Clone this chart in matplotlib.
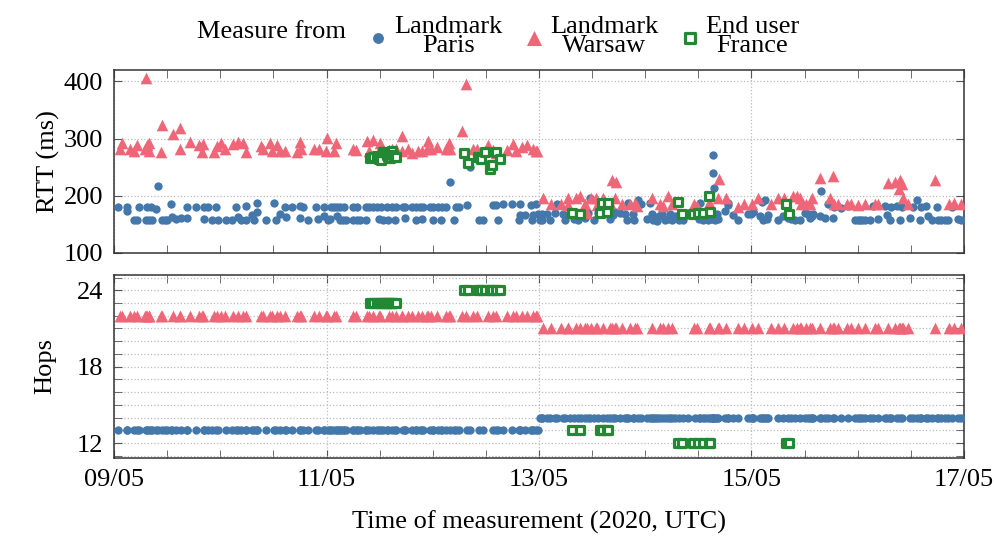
import numpy as np
import pandas as pd
import matplotlib
matplotlib.use("Agg")
import matplotlib.pyplot as plt
import matplotlib.dates as mdates

plt.rcParams['font.family'] = ['Liberation Serif', 'DejaVu Serif']
plt.rcParams['font.size'] = 19

# time = hours since 09/05/2020 00:00 UTC
start = pd.Timestamp("2020-05-09 00:00")

paris_h = [1.0, 2.9, 2.9, 5.7, 7.4, 8.4, 9.4, 12.9, 16.4, 18.5, 20.3, 21.2, 23.0, 27.5, 29.9,
           32.3, 32.3, 31.1, 36.2, 37.4, 38.6, 40.2, 42.1, 42.6, 45.6, 47.4, 10.0,
           5.1, 7.2, 8.5, 10.9, 12.0, 13.1, 13.9, 15.2, 16.4, 20.4, 22.2, 23.6, 25.3, 26.6,
           27.9, 28.7, 29.8, 31.6, 34.4, 36.6, 38.9, 42.1, 43.8, 46.0, 47.4, 48.4, 4.5, 8.0, 11.6,
           49.1, 50.3, 51.9, 54.0, 57.0, 58.5, 60.4, 61.6, 62.7, 63.8, 65.2, 67.2, 68.3, 69.8,
           71.3, 73.2, 75.1, 77.2, 78.0, 79.8, 85.5, 86.4, 87.8, 90.0, 91.7, 94.1, 95.4, 75.9,
           49.7, 51.0, 54.8, 57.6, 59.3, 65.7, 69.1, 72.1, 74.0,
           50.3, 51.0, 52.5, 54.0, 55.5, 57.0, 59.9, 61.9, 63.4, 65.7, 68.3, 69.5, 72.1, 73.8,
           76.8, 82.5, 83.4, 86.8, 91.7, 92.8, 94.7, 95.8, 91.5, 94.4, 96.6, 80.4,
           48.8, 51.8, 54.8, 60.8,
           96.6, 96.2, 97.7, 98.5, 99.6, 100.0, 101.5, 101.9, 103.0, 103.8, 104.9, 105.6, 106.4,
           107.0, 107.5, 108.5, 109.4, 110.5, 111.3, 112.0, 112.8, 113.2, 114.3, 115.4, 115.8,
           116.2, 117.3, 117.5, 118.3, 119.0, 120.3, 121.1, 121.6, 122.2, 123.0, 123.7, 124.5,
           125.6, 126.7, 127.6, 128.6, 129.7, 131.2, 132.1, 132.4, 133.5, 134.1, 135.0, 136.5,
           136.1, 138.0, 138.6, 138.8, 139.9, 141.0, 143.3, 144.4, 135.2, 135.4, 135.5,
           121.8, 122.6, 125.2, 126.0, 133.1, 134.6, 135.8,
           144.0, 144.4, 145.9, 146.3, 147.0, 146.6, 147.8, 147.4, 149.9, 151.2, 152.3, 153.0,
           153.8, 154.9, 156.1, 156.8, 157.6, 157.2, 157.9, 159.7, 159.4, 160.6, 161.2, 162.5,
           162.7, 164.3, 165.8, 167.3, 168.1, 169.6, 170.7, 171.5, 172.6, 174.1, 174.7, 175.3,
           175.6, 176.8, 177.5, 177.9, 179.8, 180.5, 181.5, 182.0, 182.4, 183.5, 183.8, 184.7,
           186.0, 186.9, 187.7, 188.4, 189.2, 190.7, 191.4, 168.5, 168.9, 186.2]
paris_rtt = [181, 181, 174, 181, 181, 181, 177, 185, 181, 181, 181, 181, 181, 181, 183,
             188, 172, 167, 187, 168, 181, 181, 183, 181, 181, 181, 217,
             158, 158, 158, 158, 158, 163, 160, 162, 162, 160, 158, 158, 158, 158,
             163, 158, 158, 158, 158, 158, 163, 161, 158, 160, 165, 158, 158, 158, 158,
             180, 180, 180, 180, 180, 180, 180, 180, 180, 180, 180, 181, 180, 180,
             180, 180, 180, 180, 180, 184, 184, 184, 185, 185, 185, 184, 185, 225,
             180, 180, 180, 180, 180, 180, 180, 180, 180,
             164, 158, 158, 158, 158, 158, 160, 158, 158, 162, 158, 160, 158, 158,
             157, 158, 158, 158, 167, 167, 166, 169, 158, 158, 158, 251,
             160, 158, 158, 158,
             168, 158, 168, 157, 170, 185, 168, 157, 168, 159, 157, 170, 161,
             170, 196, 157, 170, 168, 170, 159, 167, 172, 170, 168, 158,
             188, 168, 158, 192, 186, 160, 187, 168, 160, 165, 168, 158,
             168, 165, 158, 158, 168, 177, 160, 187, 167, 157, 159, 159,
             168, 174, 184, 188, 167, 158, 168, 172, 272, 240, 213,
             158, 156, 160, 157, 158, 160, 157,
             168, 171, 164, 190, 192, 157, 167, 159, 157, 165, 161, 159,
             158, 157, 170, 168, 164, 161, 168, 208, 164, 161, 185, 161,
             180, 178, 182, 157, 158, 157, 158, 182, 159, 182, 167, 158,
             181, 182, 157, 180, 161, 180, 192, 158, 180, 182, 164, 158,
             180, 157, 157, 157, 181, 159, 157, 157, 158, 157]

warsaw_h = [1.4, 1.7, 3.6, 4.5, 5.1, 7.0, 7.4, 7.8, 8.0, 10.5, 10.8, 13.3, 14.9, 14.8, 17.2,
            19.1, 20.0, 19.8, 22.6, 23.3, 24.1, 25.1, 26.8, 27.9, 29.1, 29.8, 33.1, 33.7, 35.2,
            35.6, 36.9, 37.6, 38.6, 41.4, 42.0, 42.2, 45.2, 46.4, 47.9, 48.2, 7.2,
            49.7, 50.1, 54.0, 54.6, 57.2, 57.6, 58.4, 60.1, 59.9, 62.2, 62.7, 63.8, 65.0, 65.0,
            66.5, 67.2, 68.7, 69.5, 71.0, 70.6, 71.5, 73.0, 75.1, 75.7, 75.9, 78.5, 79.6, 81.1,
            81.9, 84.5, 85.7, 86.4, 88.7, 90.2, 90.9, 92.1, 93.2, 94.7, 95.3, 95.5,
            96.8, 98.7, 101.0, 102.5, 102.6, 104.3, 105.3, 106.5, 106.8, 107.8, 108.8, 109.0,
            110.5, 112.0, 112.6, 113.5, 113.2, 114.8, 116.6, 117.7, 118.1, 121.6, 123.3, 124.1,
            125.2, 126.0, 131.1, 131.8, 134.3, 134.6, 136.4, 136.7, 138.2, 141.0, 142.2, 144.2,
            145.4, 148.4, 150.0, 151.4, 153.4, 154.2, 154.9, 155.3, 156.4, 157.2, 157.6, 159.4,
            161.7, 162.5, 162.7, 163.6, 165.5, 166.4, 168.0, 169.6, 171.9, 172.5, 174.9, 176.5,
            177.5, 177.3, 177.9, 178.3, 179.4, 185.4, 188.6, 189.8, 191.4]
warsaw_rtt = [281, 292, 281, 278, 289, 282, 289, 278, 292, 277, 323, 308, 319, 281, 294,
              289, 290, 276, 277, 287, 292, 282, 291, 294, 292, 277, 287, 281, 292,
              278, 288, 278, 279, 276, 294, 281, 281, 281, 278, 301, 406,
              278, 292, 282, 280, 295, 279, 298, 292, 278, 280, 282, 282, 305, 278,
              282, 275, 278, 279, 295, 281, 282, 286, 281, 292, 281, 313, 396, 281,
              281, 289, 280, 275, 280, 291, 278, 285, 288, 281, 278, 278,
              197, 186, 186, 197, 184, 197, 199, 186, 170, 196, 196, 184,
              196, 187, 227, 225, 196, 186, 186, 187, 182, 197, 186, 182,
              199, 186, 186, 182, 187, 186, 196, 230, 196, 181, 186, 186,
              196, 186, 196, 196, 199, 199, 196, 186, 186, 186, 197, 231,
              197, 235, 186, 186, 186, 186, 184, 186, 186, 186, 223, 225,
              228, 212, 221, 197, 186, 228, 186, 187, 186]

france_h = [57.8, 58.5, 59.3, 59.9, 60.4, 60.7, 61.2, 61.6, 61.9, 62.3, 62.7, 63.1, 63.7,
            79.0, 80.0, 82.3, 83.0, 83.8, 84.9, 85.3, 86.3, 87.2,
            103.4, 105.3, 109.8, 110.2, 111.3, 111.7,
            127.3, 128.2, 130.9, 132.0, 133.1, 134.3, 134.6,
            151.9, 152.4]
france_rtt = [266, 268, 270, 264, 262, 276, 276, 272, 268, 266, 278, 272, 268,
              274, 257, 268, 264, 276, 247, 254, 276, 264,
              170, 168, 170, 188, 171, 188,
              189, 168, 168, 170, 170, 199, 171,
              186, 168]
france_hops = [23] * 13 + [24] * 9 + [13] * 6 + [12] * 7 + [12] * 2

# path change on 13/05 00:00
route_change_h = 96
paris_hops_before, paris_hops_after = 13, 14
warsaw_hops_before, warsaw_hops_after = 22, 21

c_paris = '#4477AA'
c_warsaw = '#EE6677'
c_france = '#228833'


def to_time(h):
    return start + pd.to_timedelta(np.asarray(h), unit='h')


paris_t = to_time(paris_h)
warsaw_t = to_time(warsaw_h)
france_t = to_time(france_h)
paris_hops = np.where(np.array(paris_h) < route_change_h, paris_hops_before, paris_hops_after)
warsaw_hops = np.where(np.array(warsaw_h) < route_change_h, warsaw_hops_before, warsaw_hops_after)

fig = plt.figure(figsize=(9.95, 5.4), dpi=100)
ax1 = fig.add_axes([0.1146, 0.5315, 0.8542, 0.3389])
ax2 = fig.add_axes([0.1146, 0.1519, 0.8542, 0.3389])

for ax, yp, yw, yf in [(ax1, paris_rtt, warsaw_rtt, france_rtt),
                       (ax2, paris_hops, warsaw_hops, france_hops)]:
    ax.scatter(paris_t, yp, s=36, marker='o', color=c_paris, lw=0, zorder=3, label='Landmark\nParis')
    ax.scatter(warsaw_t, yw, s=70, marker='^', color=c_warsaw, lw=0, zorder=3, label='Landmark\nWarsaw')
    ax.scatter(france_t, yf, s=36, marker='s', facecolor='white', edgecolor=c_france, lw=2.3,
               zorder=4, label='End user\nFrance')
    ax.set_xlim(start, start + pd.Timedelta(days=8))
    ax.xaxis.set_major_locator(mdates.DayLocator(bymonthday=[9, 11, 13, 15, 17]))
    ax.xaxis.set_minor_locator(mdates.HourLocator(byhour=[0, 12]))
    ax.xaxis.set_major_formatter(mdates.DateFormatter('%d/%m'))
    ax.tick_params(which='both', direction='in', top=True, right=True, color='#555555')
    ax.tick_params(which='major', length=6, pad=8)
    ax.tick_params(which='minor', length=6)
    ax.grid(True, which='major', axis='x', ls=':', color='#bbbbbb', lw=0.9)
    for s in ax.spines.values():
        s.set_color('#333333')
        s.set_linewidth(1.1)

ax1.set_ylim(100, 420)
ax1.set_yticks([100, 200, 300, 400])
ax1.grid(True, which='major', axis='y', ls=':', color='#bbbbbb', lw=0.9)
ax1.tick_params(axis='x', labelbottom=False)
ax1.set_ylabel('RTT (ms)')

ax2.set_ylim(10.84, 25.2)
ax2.set_yticks([12, 18, 24])
ax2.set_yticks(np.arange(11, 26), minor=True)
ax2.tick_params(axis='y', which='minor', length=6)
ax2.grid(True, which='both', axis='y', ls=':', color='#bbbbbb', lw=0.9)
ax2.set_ylabel('Hops')
ax2.set_xlabel('Time of measurement (2020, UTC)', labelpad=14)
ax1.yaxis.set_label_coords(-0.064, 0.5)
ax2.yaxis.set_label_coords(-0.068, 0.5)

handles, labels = ax1.get_legend_handles_labels()
leg = fig.legend(handles, labels, loc='upper center', bbox_to_anchor=(0.585, 1.015), ncol=3,
                 frameon=False, handletextpad=0.1, columnspacing=0.7, handlelength=1.0,
                 markerscale=1.3)
for t in leg.get_texts():
    t.set_multialignment('center')
    t.set_linespacing(0.85)
fig.text(0.198, 0.94, 'Measure from', ha='left', va='center')

fig.savefig('out.png', dpi=100)
